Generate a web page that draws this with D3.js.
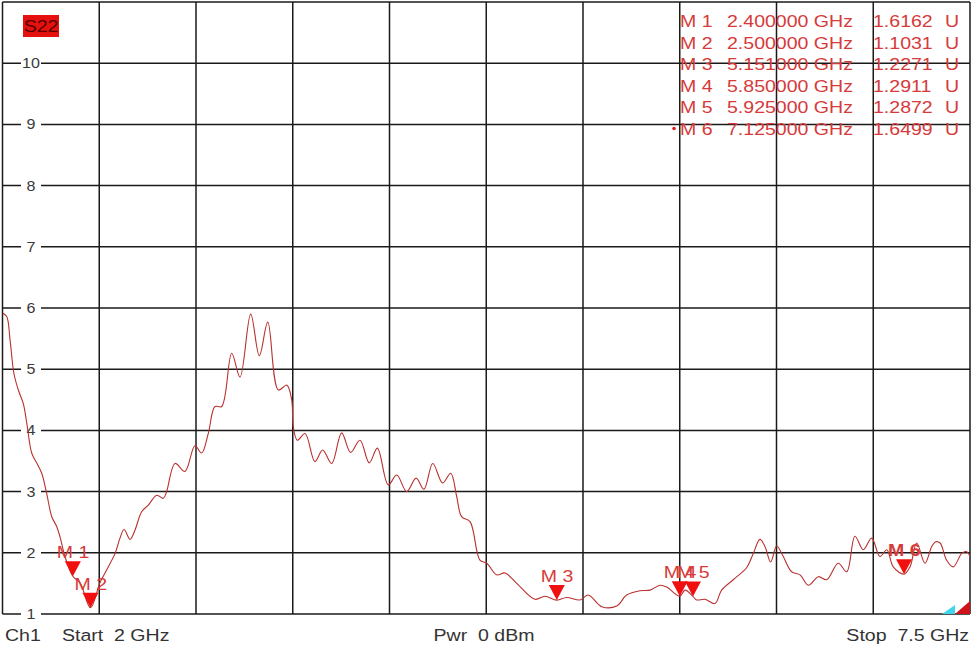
<!DOCTYPE html>
<html>
<head>
<meta charset="utf-8">
<script src="https://cdn.jsdelivr.net/npm/d3@7/dist/d3.min.js"></script>
<style>
  body { margin: 0; background: #fff; }
  svg { display: block; font-family: "Liberation Sans", Arial, sans-serif; }
  svg text { white-space: pre; }
</style>
</head>
<body>
<div id="chart"></div>
<script>
(function () {

    // trace (GHz, VSWR in U)
    const freqGHz = [
        2.000, 2.024, 2.043, 2.065, 2.090, 2.118, 2.138, 2.166, 2.194, 2.223,
        2.251, 2.280, 2.308, 2.327, 2.355, 2.400, 2.441, 2.500, 2.554, 2.592,
        2.640, 2.668, 2.691, 2.725, 2.753, 2.791, 2.829, 2.877, 2.914, 2.933,
        2.981, 3.037, 3.094, 3.132, 3.170, 3.208, 3.246, 3.303, 3.350, 3.411,
        3.460, 3.508, 3.568, 3.616, 3.644, 3.653, 3.676, 3.720, 3.776, 3.820,
        3.871, 3.928, 3.979, 4.032, 4.085, 4.131, 4.193, 4.241, 4.298, 4.351,
        4.396, 4.446, 4.502, 4.548, 4.582, 4.610, 4.658, 4.714, 4.753, 4.809,
        4.857, 4.923, 5.027, 5.084, 5.151, 5.207, 5.283, 5.330, 5.406, 5.492,
        5.548, 5.624, 5.681, 5.738, 5.776, 5.850, 5.880, 5.925, 5.946, 5.994,
        6.050, 6.088, 6.154, 6.231, 6.268, 6.306, 6.335, 6.367, 6.401, 6.435,
        6.486, 6.534, 6.581, 6.638, 6.685, 6.751, 6.799, 6.846, 6.893, 6.941,
        6.988, 7.027, 7.064, 7.125, 7.159, 7.197, 7.244, 7.282, 7.305, 7.330,
        7.367, 7.405, 7.453, 7.480, 7.500
    ];
    const vswr = [
        5.92, 5.86, 5.48, 4.93, 4.66, 4.44, 4.12, 3.63, 3.47, 3.30,
        2.97, 2.59, 2.43, 2.26, 1.94, 1.616, 1.51, 1.103, 1.51, 1.72,
        1.99, 2.24, 2.38, 2.22, 2.37, 2.67, 2.78, 2.94, 2.89, 3.00,
        3.46, 3.33, 3.75, 3.63, 3.95, 4.39, 4.39, 5.26, 4.87, 5.90,
        5.22, 5.77, 4.66, 4.74, 4.50, 4.06, 3.84, 3.95, 3.49, 3.68,
        3.46, 3.96, 3.64, 3.84, 3.47, 3.71, 3.11, 3.27, 3.00, 3.22,
        3.04, 3.46, 3.14, 3.30, 2.92, 2.59, 2.51, 1.88, 1.83, 1.64,
        1.67, 1.50, 1.24, 1.29, 1.227, 1.27, 1.23, 1.31, 1.12, 1.13,
        1.31, 1.38, 1.39, 1.47, 1.44, 1.291, 1.39, 1.287, 1.23, 1.24,
        1.17, 1.39, 1.56, 1.76, 1.99, 2.22, 2.10, 1.85, 2.11, 1.96,
        1.69, 1.64, 1.47, 1.61, 1.56, 1.83, 1.69, 2.27, 2.05, 2.24,
        1.94, 2.05, 1.77, 1.65, 1.77, 2.16, 1.83, 2.10, 2.18, 2.16,
        1.88, 1.77, 1.99, 2.02, 1.94
    ];

    const markerNames = ['M 1', 'M 2', 'M 3', 'M 4', 'M 5', 'M 6'];
    const markerFreq = [2.400, 2.500, 5.151, 5.850, 5.925, 7.125];
    const markerValue = [1.6162, 1.1031, 1.2271, 1.2911, 1.2872, 1.6499];
    const activeMarker = 5;

    const yTicks = [1, 2, 3, 4, 5, 6, 7, 8, 9, 10];
    const startGHz = 2, stopGHz = 7.5, divisions = 10;
    const traceName = 'S22';
    const footer = ['Ch1', 'Start  2 GHz', 'Pwr  0 dBm', 'Stop  7.5 GHz'];

    const width = 971;
    const height = 647;
    const stretch = 1.15;   // the analyser font is drawn a bit wide
    const fontSize = 17;

    const svg = d3.select('#chart')
        .append('svg')
        .attr('width', width)
        .attr('height', height);

    svg.append('rect')
        .attr('width', width)
        .attr('height', height)
        .attr('fill', '#fff');

    const x = d3.scaleLinear().domain([startGHz, stopGHz]).range([2.5, 970]);
    const y = d3.scaleLinear().domain([1, 11]).range([614, 2]);

    function place(sel, px, py) {
        return sel.attr('transform', `translate(${px},${py}) scale(${stretch},1)`);
    }

    // grid
    const xGrid = d3.range(divisions + 1).map(i => startGHz + i * (stopGHz - startGHz) / divisions);
    const yGrid = d3.range(divisions + 1).map(i => 1 + i);

    const grid = svg.append('g')
        .attr('stroke', '#1a1a1a')
        .attr('stroke-width', 1.5);

    grid.selectAll('.v')
        .data(xGrid)
        .join('line')
        .attr('class', 'v')
        .attr('x1', d => x(d)).attr('x2', d => x(d))
        .attr('y1', y(11)).attr('y2', y(1));

    grid.selectAll('.h')
        .data(yGrid)
        .join('line')
        .attr('class', 'h')
        .attr('x1', x(startGHz)).attr('x2', x(stopGHz))
        .attr('y1', d => y(d)).attr('y2', d => y(d));

    // y labels sit on the grid lines
    const yLab = svg.append('g').selectAll('g')
        .data(yTicks)
        .join('g');

    yLab.append('rect')
        .attr('x', 21)
        .attr('y', d => y(d) - 6)
        .attr('width', 20)
        .attr('height', 12)
        .attr('fill', '#fff');

    yLab.append('text')
        .attr('text-anchor', 'middle')
        .attr('dy', '0.36em')
        .attr('font-size', 14)
        .attr('fill', '#3a3a3a')
        .text(d => d)
        .each(function (d) { place(d3.select(this), 31, y(d)); });

    // trace
    svg.append('clipPath')
        .attr('id', 'plot-clip')
        .append('rect')
        .attr('x', x(startGHz))
        .attr('y', y(11))
        .attr('width', x(stopGHz) - x(startGHz))
        .attr('height', y(1) - y(11));

    const line = d3.line()
        .x(d => x(d[0]))
        .y(d => y(d[1]))
        .curve(d3.curveCatmullRom.alpha(0.5));

    svg.append('path')
        .datum(d3.zip(freqGHz, vswr))
        .attr('clip-path', 'url(#plot-clip)')
        .attr('fill', 'none')
        .attr('stroke', '#b8312f')
        .attr('stroke-width', 1.1)
        .attr('d', line);

    // markers
    const markers = svg.append('g').selectAll('g')
        .data(markerNames.map((n, i) => ({ name: n, f: markerFreq[i], v: markerValue[i], i })))
        .join('g');

    markers.append('path')
        .attr('fill', '#f01010')
        .attr('d', d => {
            const cx = x(d.f), ty = y(d.v);
            return `M${cx - 8},${ty - 15}L${cx + 8},${ty - 15}L${cx},${ty}Z`;
        });

    markers.append('text')
        .attr('font-size', fontSize)
        .attr('font-weight', d => d.i === activeMarker ? 'bold' : 'normal')
        .attr('fill', '#d63a3a')
        .text(d => d.name)
        .each(function (d) { place(d3.select(this), x(d.f) - 16, y(d.v) - 18); });

    // marker table, top right
    const fmtF = d3.format('.6f');
    const fmtV = d3.format('.4f');
    const rows = svg.append('g')
        .attr('font-size', fontSize)
        .attr('fill', '#d63a3a')
        .selectAll('g')
        .data(markerNames.map((n, i) => ({ name: n, f: markerFreq[i], v: markerValue[i], i })))
        .join('g');

    const rowY = i => 27 + i * 21.5;

    rows.append('text').text(d => d.name)
        .each(function (d) { place(d3.select(this), 680, rowY(d.i)); });
    rows.append('text').text(d => fmtF(d.f) + ' GHz')
        .each(function (d) { place(d3.select(this), 727, rowY(d.i)); });
    rows.append('text').text(d => fmtV(d.v))
        .each(function (d) { place(d3.select(this), 873, rowY(d.i)); });
    rows.append('text').text('U')
        .each(function (d) { place(d3.select(this), 945, rowY(d.i)); });

    svg.append('circle')
        .attr('cx', 674)
        .attr('cy', rowY(activeMarker) - 6)
        .attr('r', 1.8)
        .attr('fill', '#e02020');

    // trace tag
    svg.append('rect')
        .attr('x', 23).attr('y', 15)
        .attr('width', 36).attr('height', 22)
        .attr('fill', '#e4110f');
    place(svg.append('text')
        .attr('font-size', fontSize)
        .attr('text-anchor', 'middle')
        .attr('fill', '#5a0000')
        .text(traceName), 41, 32);

    // bottom line
    const fy = 641;
    const foot = svg.append('g').attr('font-size', fontSize).attr('fill', '#333');
    place(foot.append('text').text(footer[0]), 5, fy);
    place(foot.append('text').text(footer[1]), 62, fy);
    place(foot.append('text').attr('text-anchor', 'middle').text(footer[2]), 484, fy);
    place(foot.append('text').attr('text-anchor', 'end').text(footer[3]), 969, fy);

    // reference level tabs at the bottom right
    const rx = x(stopGHz), ry = y(1);
    svg.append('path')
        .attr('fill', '#3fd6ea')
        .attr('d', `M${rx - 28},${ry}L${rx - 15},${ry}L${rx - 15},${ry - 9}Z`);
    svg.append('path')
        .attr('fill', '#d0121a')
        .attr('d', `M${rx - 15},${ry}L${rx},${ry}L${rx},${ry - 13}Z`);

})();
</script>
</body>
</html>
